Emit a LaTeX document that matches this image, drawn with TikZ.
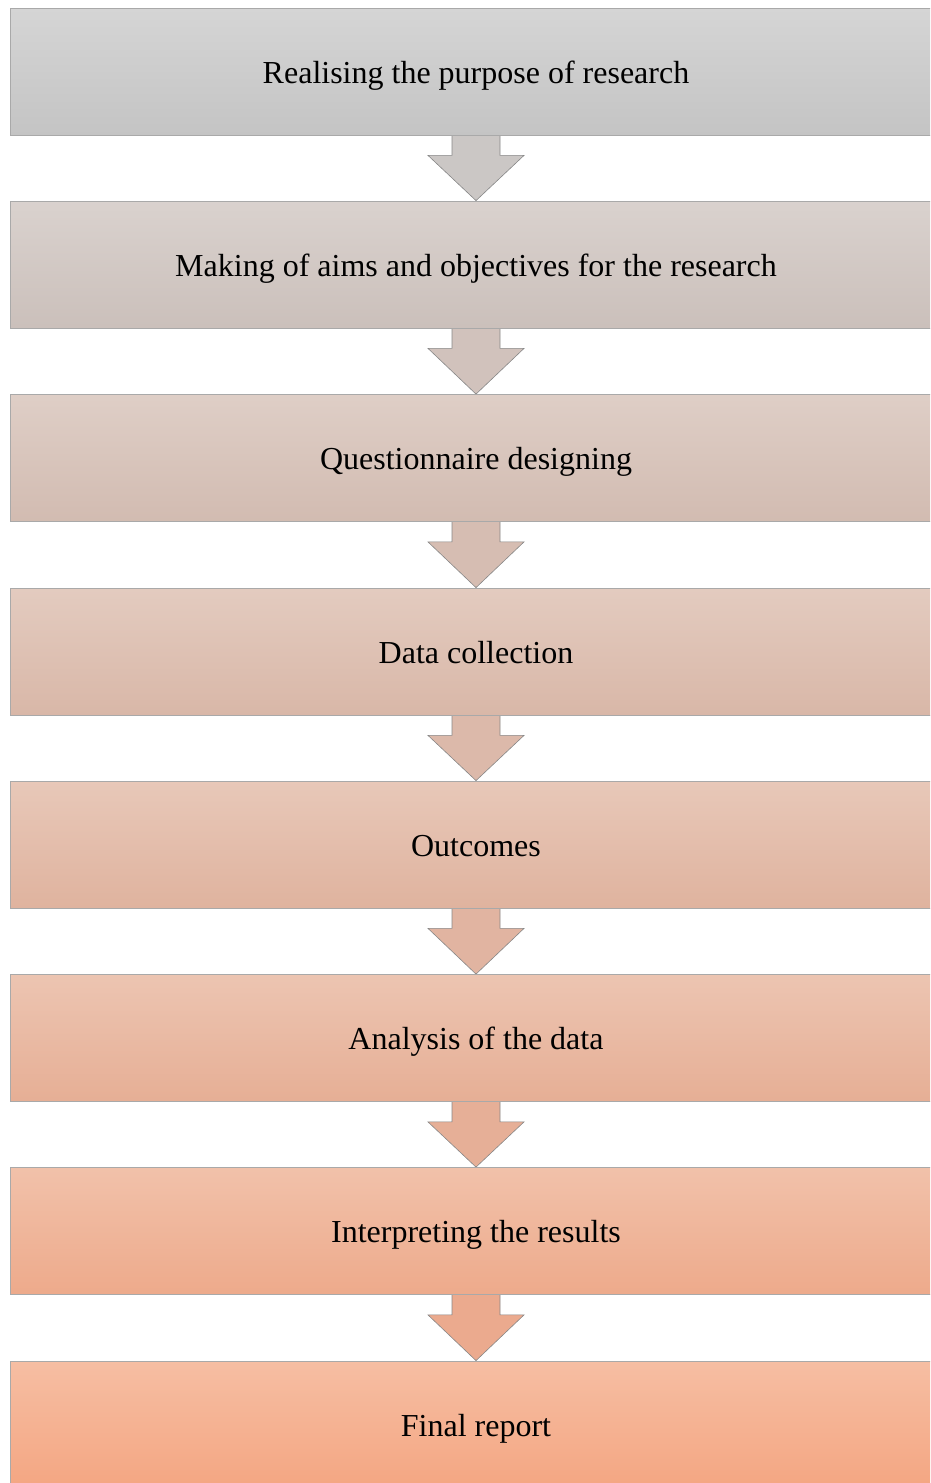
\documentclass[tikz,border=0pt]{standalone}
\usepackage{fontspec}
\setmainfont{Liberation Serif}
\usetikzlibrary{calc,backgrounds}
\definecolor{gtop}{HTML}{D5D5D5}
\definecolor{gbot}{HTML}{C4C4C4}
\definecolor{otop}{HTML}{F6BEA3}
\definecolor{obot}{HTML}{F4A682}
\definecolor{gmid}{HTML}{C9C9C9}
\definecolor{omid}{HTML}{EEA88A}
\definecolor{edgec}{HTML}{A9A9A9}
\tikzset{
  stepbox/.style={rectangle, minimum width=932pt, minimum height=127pt, inner sep=0pt,
    text height=23pt, text depth=0pt,
    draw=edgec, line width=0.8pt, font=\fontsize{32}{38}\selectfont, text=black},
  downarrow/.style={draw=edgec!80!black, line width=0.6pt, line join=miter}
}
\newcommand{\mkbox}[4]{%
  \node[stepbox, top color=gtop!#1!otop, bottom color=gbot!#1!obot] (#2) at (476,#3) {#4};}
\newcommand{\mkarrow}[3]{%
  \begin{pgfonlayer}{background}
  \fill[gmid!#3!omid] ($(#1.south)+(-24,-2)$) -- ($(#1.south)+(-24,20)$) -- ($(#1.south)+(-48,20)$) -- (#2.north) -- ($(#1.south)+(48,20)$) -- ($(#1.south)+(24,20)$) -- ($(#1.south)+(24,-2)$) -- cycle;
  \draw[downarrow] ($(#1.south)+(-24,0)$) -- ($(#1.south)+(-24,20)$) -- ($(#1.south)+(-48,20)$) -- (#2.north) -- ($(#1.south)+(48,20)$) -- ($(#1.south)+(24,20)$) -- ($(#1.south)+(24,0)$);
  \end{pgfonlayer}}
\begin{document}
\begin{tikzpicture}[x=1pt,y=-1pt]
\useasboundingbox (0,0) rectangle (930,1483);
\clip (0,0) rectangle (930,1483);
\mkbox{100}{b1}{71.5}{Realising the purpose of research}
\mkbox{86}{b2}{264.5}{Making of aims and objectives for the research}
\mkbox{71}{b3}{458}{Questionnaire designing}
\mkbox{57}{b4}{651.5}{Data collection}
\mkbox{43}{b5}{844.5}{Outcomes}
\mkbox{29}{b6}{1038}{Analysis of the data}
\mkbox{14}{b7}{1231}{Interpreting the results}
\mkbox{0}{b8}{1424.5}{Final report}
\mkarrow{b1}{b2}{93}
\mkarrow{b2}{b3}{79}
\mkarrow{b3}{b4}{64}
\mkarrow{b4}{b5}{50}
\mkarrow{b5}{b6}{36}
\mkarrow{b6}{b7}{21}
\mkarrow{b7}{b8}{7}
\end{tikzpicture}
\end{document}
